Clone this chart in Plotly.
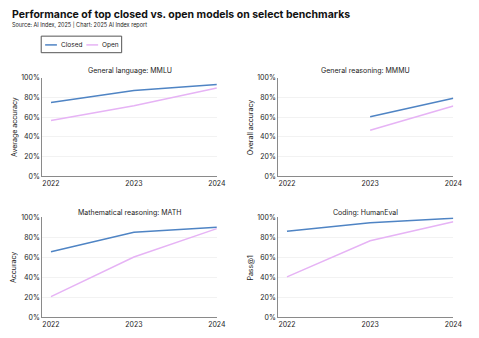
import plotly.graph_objects as go

years = [2022, 2023, 2024]
panels = ["General language: MMLU", "General reasoning: MMMU",
          "Mathematical reasoning: MATH", "Coding: HumanEval"]
ytitles = ["Average accuracy", "Overall accuracy", "Accuracy", "Pass@1"]
series_names = ["Closed", "Open"]
closed = [
    [0.750, 0.874, 0.934],
    [None, 0.607, 0.793],
    [0.655, 0.850, 0.899],
    [0.859, 0.944, 0.990],
]
open_ = [
    [0.567, 0.718, 0.898],
    [None, 0.469, 0.715],
    [0.208, 0.603, 0.886],
    [0.405, 0.765, 0.954],
]
ytick_vals = [0, 0.2, 0.4, 0.6, 0.8, 1.0]
ytick_text = ["0%", "20%", "40%", "60%", "80%", "100%"]

W, H = 479, 338
C_CLOSED = "#4f84c4"
C_OPEN = "#e6b3f5"
FONT = "Inter"

xdoms = [[43 / W, 221 / W], [283.5 / W, 462 / W]]
ydoms = [[1 - 176 / H, 1 - 75 / H], [1 - 321 / H, 1 - 218 / H]]
title_y = [1 - 67.5 / H, 1 - 213 / H]

fig = go.Figure()
for i in range(4):
    r, c = divmod(i, 2)
    ax = "" if i == 0 else str(i + 1)
    fig.add_trace(go.Scatter(x=years, y=closed[i], mode="lines", name=series_names[0],
                             line=dict(color=C_CLOSED, width=1.5),
                             showlegend=False, xaxis="x" + ax, yaxis="y" + ax))
    fig.add_trace(go.Scatter(x=years, y=open_[i], mode="lines", name=series_names[1],
                             line=dict(color=C_OPEN, width=1.5),
                             showlegend=False, xaxis="x" + ax, yaxis="y" + ax))
    fig.layout["xaxis" + ax] = dict(
        domain=xdoms[c], anchor="y" + ax, range=[2021.894, 2024.0],
        tickvals=years, ticktext=[str(y) for y in years],
        showgrid=False, zeroline=False, showline=True, linecolor="#8a8a8a",
        linewidth=1, ticks="", tickfont=dict(size=7, color="#222", family=FONT),
    )
    fig.layout["yaxis" + ax] = dict(
        domain=ydoms[r], anchor="x" + ax, range=[0, 1.0],
        tickvals=ytick_vals, ticktext=ytick_text,
        showgrid=True, gridcolor="#f2f2f2", gridwidth=1, zeroline=False,
        showline=True, linecolor="#8a8a8a", linewidth=1, ticks="",
        tickfont=dict(size=7, color="#222", family=FONT),
    )
    fig.add_annotation(text=panels[i], xref="paper", yref="paper",
                       x=(xdoms[c][0] + xdoms[c][1]) / 2, y=title_y[r],
                       xanchor="center", yanchor="middle", showarrow=False,
                       font=dict(size=7, color="#222", family=FONT))
    fig.add_annotation(text=ytitles[i], xref="paper", yref="paper",
                       x=(14 if c == 0 else 255) / W,
                       y=(ydoms[r][0] + ydoms[r][1]) / 2,
                       xanchor="center", yanchor="middle", textangle=-90,
                       showarrow=False, font=dict(size=7, color="#222", family=FONT))

fig.add_annotation(text="<b>Performance of top closed vs. open models on select benchmarks</b>",
                   xref="paper", yref="paper", x=10 / W, y=1 - 10 / H,
                   xanchor="left", yanchor="middle", showarrow=False,
                   font=dict(size=10.5, color="#111", family=FONT))
fig.add_annotation(text="Source: AI Index, 2025 | Chart: 2025 AI Index report",
                   xref="paper", yref="paper", x=10 / W, y=1 - 21 / H,
                   xanchor="left", yanchor="middle", showarrow=False,
                   font=dict(size=5.5, color="#222", family=FONT))

# custom compact legend
leg_y = 1 - 41 / H
fig.add_shape(type="rect", xref="paper", yref="paper",
              x0=42 / W, x1=124 / W, y0=1 - 49 / H, y1=1 - 32 / H,
              line=dict(color="#555", width=1), fillcolor="white", layer="above")
for name, color, lx0, tx in [(series_names[0], C_CLOSED, 46, 60),
                             (series_names[1], C_OPEN, 88, 102)]:
    fig.add_shape(type="line", xref="paper", yref="paper",
                  x0=lx0 / W, x1=(lx0 + 12) / W, y0=leg_y, y1=leg_y,
                  line=dict(color=color, width=1.5), layer="above")
    fig.add_annotation(text=name, xref="paper", yref="paper", x=tx / W, y=leg_y,
                       xanchor="left", yanchor="middle", showarrow=False,
                       font=dict(size=6.5, color="#222", family=FONT))

fig.update_layout(
    width=W, height=H, margin=dict(l=0, r=0, t=0, b=0),
    paper_bgcolor="white", plot_bgcolor="white", showlegend=False,
)

fig.write_html("out.html")
